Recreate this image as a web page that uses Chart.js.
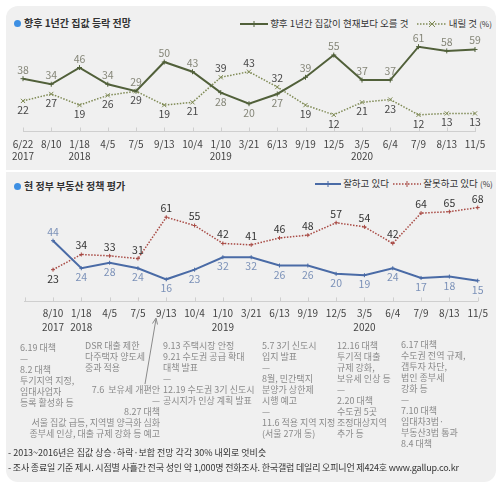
<!DOCTYPE html>
<html>
<head>
<meta charset="utf-8">
<script src="https://cdn.jsdelivr.net/npm/chart.js@4.4.1/dist/chart.umd.min.js"></script>
<style>
body{margin:0;width:500px;height:489px;background:#fff;font-family:"Noto Sans CJK KR","Noto Sans",sans-serif;overflow:hidden;position:relative}
#panel{position:absolute;left:6px;top:6px;width:490px;height:476px;background:#f0f0f0;border-radius:12px}
#sep{position:absolute;left:6px;top:170px;width:490px;height:2px;background:#fff}
canvas{position:absolute;left:0}
#c1{top:0}
#c2{top:170px}
.t{position:absolute;white-space:nowrap;line-height:1}
.tit{font-size:10px;font-weight:bold;color:#333}
.dot{display:inline-block;width:7px;height:7px;border-radius:50%;background:#3d8fe3;margin-right:3px;vertical-align:0}
.leg{font-size:9.5px;color:#333}
.leg svg{vertical-align:middle}
.pc{font-size:8px}
.nota{position:absolute;font-size:9px;line-height:11px;color:#8a8a8a;white-space:nowrap}
.pie{font-size:9px;color:#333}
</style>
</head>
<body>
<div id="panel"></div>
<div id="sep"></div>

<div class="t tit" style="left:14px;top:18px"><span class="dot"></span>향후 1년간 집값 등락 전망</div>
<div class="t leg" style="left:240px;top:19px">
  <svg width="28" height="8"><line x1="0" y1="4" x2="28" y2="4" stroke="#51603a" stroke-width="2"/><line x1="14" y1="1" x2="14" y2="7" stroke="#51603a" stroke-width="1"/></svg>
  향후 1년간 집값이 현재보다 오를 것
  <svg width="30" height="8" style="margin-left:6px"><line x1="0" y1="4" x2="30" y2="4" stroke="#7f8a55" stroke-width="1.5" stroke-dasharray="1.5 1.5"/><path d="M12 1 L18 7 M18 1 L12 7" stroke="#7f8a55" stroke-width="1"/></svg>
  내릴 것 <span class="pc">(%)</span>
</div>
<canvas id="c1" width="500" height="170"></canvas>

<div class="t tit" style="left:14px;top:181px"><span class="dot"></span>현 정부 부동산 정책 평가</div>
<div class="t leg" style="left:315px;top:179px">
  <svg width="26" height="8"><line x1="0" y1="4" x2="26" y2="4" stroke="#4a6ba6" stroke-width="2"/><line x1="13" y1="1" x2="13" y2="7" stroke="#4a6ba6" stroke-width="1"/></svg>
  잘하고 있다
  <svg width="28" height="8" style="margin-left:2px"><line x1="0" y1="4" x2="28" y2="4" stroke="#a84a44" stroke-width="1.5" stroke-dasharray="1.5 1.5"/><line x1="14" y1="1" x2="14" y2="7" stroke="#a84a44" stroke-width="1"/></svg>
  잘못하고 있다 <span class="pc">(%)</span>
</div>
<canvas id="c2" width="500" height="175"></canvas>

<svg style="position:absolute;left:0;top:0" width="500" height="489">
  <line x1="145" y1="384" x2="156" y2="319" stroke="#8a8a8a" stroke-width="1"/>
  <path d="M152.5 323.5 L156 318 L157.5 324.5" fill="none" stroke="#8a8a8a" stroke-width="1"/>
</svg>

<div class="nota" style="left:20px;top:342px">6.19 대책<br>—<br>8.2 대책<br>투기지역 지정,<br>임대사업자<br>등록 활성화 등</div>
<div class="nota" style="left:85px;top:340px">DSR 대출 제한<br>다주택자 양도세<br>중과 적용</div>
<div class="nota" style="right:340px;top:384px;text-align:right">7.6&nbsp; 보유세 개편안<br>—<br>8.27 대책<br>서울 집값 급등, 지역별 양극화 심화<br>종부세 인상, 대출 규제 강화 등 예고</div>
<div class="nota" style="left:163px;top:340px">9.13 주택시장 안정<br>9.21 수도권 공급 확대<br>대책 발표<br>—<br>12.19 수도권 3기 신도시<br>공시지가 인상 계획 발표</div>
<div class="nota" style="left:262px;top:340px">5.7 3기 신도시<br>입지 발표<br>—<br>8월, 민간택지<br>분양가 상한제<br>시행 예고<br>—<br>11.6 적용 지역 지정<br>(서울 27개 동)</div>
<div class="nota" style="left:337px;top:340px">12.16 대책<br>투기적 대출<br>규제 강화,<br>보유세 인상 등<br>—<br>2.20 대책<br>수도권 5곳<br>조정대상지역<br>추가 등</div>
<div class="nota" style="left:401px;top:339px">6.17 대책<br>수도권 전역 규제,<br>갭투자 차단,<br>법인 종부세<br>강화 등<br>—<br>7.10 대책<br>임대차3법·<br>부동산3법 통과<br>8.4 대책</div>

<div class="t pie" style="left:8px;top:448px">- 2013~2016년은 집값 상승·하락·보합 전망 각각 30% 내외로 엇비슷</div>
<div class="t pie" style="left:8px;top:463px;letter-spacing:-0.18px">- 조사 종료일 기준 제시. 시점별 사흘간 전국 성인 약 1,000명 전화조사. 한국갤럽 데일리 오피니언 제424호 www.gallup.co.kr</div>

<script>
// fechas de encuesta
const fechas = ['6/22', '8/10', '1/18', '4/5', '7/5', '9/13', '10/4', '1/10', '3/21', '6/13', '9/19', '12/5', '3/5', '6/4', '7/9', '8/13', '11/5'];
const anios1 = ['2017', '', '2018', '', '', '', '', '2019', '', '', '', '', '2020', '', '', '', ''];
const anios2 = ['', '2017', '2018', '', '', '', '', '2019', '', '', '', '', '2020', '', '', '', ''];

// 향후 1년간 집값 등락 전망
const subira = [38, 34, 46, 34, 29, 50, 43, 28, 20, 27, 39, 55, 37, 37, 61, 58, 59];
const bajara = [22, 27, 19, 26, 29, 19, 21, 39, 43, 32, 19, 12, 21, 23, 12, 13, 13];

// 현 정부 부동산 정책 평가 (primera fecha vacía)
const bien = [null, 44, 24, 28, 24, 16, 23, 32, 32, 26, 26, 20, 19, 24, 17, 18, 15];
const mal = [null, 23, 34, 33, 31, 61, 55, 42, 41, 46, 48, 57, 54, 42, 64, 65, 68];

const fuente = '"Noto Sans CJK KR", "Noto Sans", sans-serif';

// etiquetas de valores: la serie mayor arriba, la menor abajo
const etiquetas = {
    id: 'etiquetas',
    afterDatasetsDraw(chart) {
        const ctx = chart.ctx;
        const sets = chart.data.datasets;
        ctx.save();
        ctx.font = '10.5px ' + fuente;
        ctx.textAlign = 'center';
        ctx.textBaseline = 'middle';
        sets.forEach((ds, i) => {
            const otro = sets[1 - i].data;
            chart.getDatasetMeta(i).data.forEach((p, j) => {
                const v = ds.data[j];
                if (v == null) return;
                const arriba = i === 0 ? v >= otro[j] : v > otro[j];
                ctx.fillStyle = ds.colorEtiqueta;
                ctx.fillText(v, p.x, arriba ? p.y - 9 : p.y + 9);
            });
        });
        ctx.restore();
    }
};

// marcas pequeñas sobre el eje x
const marcas = {
    id: 'marcas',
    beforeDatasetsDraw(chart) {
        const ctx = chart.ctx;
        const x = chart.scales.x;
        const base = chart.chartArea.bottom;
        ctx.save();
        ctx.strokeStyle = '#cfcfcf';
        ctx.lineWidth = 1;
        x.ticks.forEach((t, k) => {
            const px = Math.round(x.getPixelForTick(k)) + 0.5;
            ctx.beginPath();
            ctx.moveTo(px, base);
            ctx.lineTo(px, base - 4);
            ctx.stroke();
        });
        ctx.restore();
    }
};

const crearGrafico = (id, anios, series, pad, alto, interlinea, sep) => {
    return new Chart(document.getElementById(id), {
        type: 'line',
        data: {
            labels: fechas.map((f, k) => [k === 0 && id === 'c2' ? '' : f, anios[k]]),
            datasets: series
        },
        options: {
            responsive: false,
            animation: false,
            devicePixelRatio: 1,
            layout: { padding: pad },
            plugins: { legend: { display: false }, tooltip: { enabled: false } },
            scales: {
                y: { display: false, min: 0, max: 70 },
                x: {
                    offset: false,
                    grid: { display: false, drawTicks: false },
                    border: { display: true, color: '#cfcfcf', width: 1 },
                    ticks: {
                        color: '#444',
                        autoSkip: false,
                        maxRotation: 0,
                        padding: sep,
                        font: { family: fuente, size: 10, lineHeight: interlinea }
                    },
                    afterFit: (s) => { s.height = alto; }
                }
            }
        },
        plugins: [marcas, etiquetas]
    });
};

crearGrafico('c1', anios1, [
    {
        data: subira,
        borderColor: '#51603a',
        borderWidth: 2,
        pointStyle: 'cross',
        pointRadius: 2.5,
        pointBorderColor: '#51603a',
        pointBorderWidth: 1,
        colorEtiqueta: '#858678'
    },
    {
        data: bajara,
        borderColor: '#7f8a55',
        borderWidth: 1.5,
        borderDash: [1.5, 1.5],
        pointStyle: 'crossRot',
        pointRadius: 3,
        pointBorderColor: '#7f8a55',
        pointBorderWidth: 1,
        colorEtiqueta: '#474747'
    }
], { left: 23, right: 25, top: 34.2, bottom: 8.5 }, 30, 1.2, 6.5);

crearGrafico('c2', anios2, [
    {
        data: bien,
        borderColor: '#4a6ba6',
        borderWidth: 2,
        pointStyle: 'cross',
        pointRadius: 2,
        pointBorderColor: '#4a6ba6',
        pointBorderWidth: 1,
        colorEtiqueta: '#7b91b8'
    },
    {
        data: mal,
        borderColor: '#a84a44',
        borderWidth: 1.5,
        borderDash: [1.5, 1.5],
        pointStyle: 'cross',
        pointRadius: 2,
        pointBorderColor: '#a84a44',
        pointBorderWidth: 1,
        colorEtiqueta: '#333'
    }
], { left: 24.7, right: 22.3, top: 34.8, bottom: 3.6 }, 40, 1.4, 5.3);
</script>
</body>
</html>
